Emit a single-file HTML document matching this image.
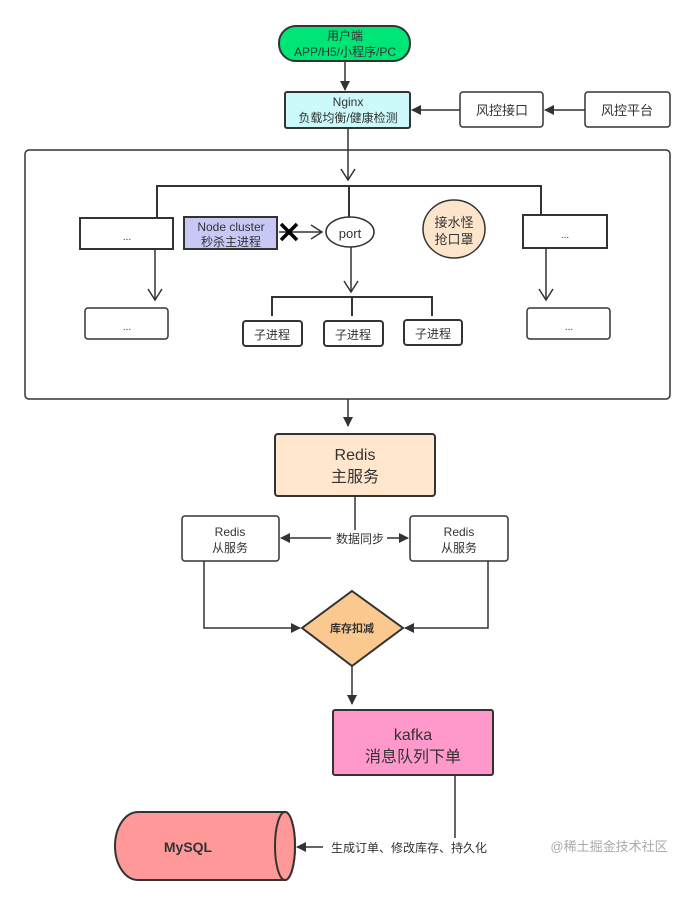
<!DOCTYPE html>
<html><head><meta charset="utf-8"><style>
body{margin:0;background:#fff;}
svg text{font-family:"Liberation Sans","Noto Sans CJK SC",sans-serif;fill:#333;}
</style></head><body>
<svg width="695" height="904" viewBox="0 0 695 904" xmlns="http://www.w3.org/2000/svg">
<defs>
<marker id="a" markerWidth="10" markerHeight="10" refX="9" refY="5" orient="auto" markerUnits="userSpaceOnUse"><path d="M0,0 L10,5 L0,10 z" fill="#333"/></marker>
<marker id="o" markerWidth="14" markerHeight="16" refX="12" refY="8" orient="auto" markerUnits="userSpaceOnUse"><path d="M1,1 L12,8 L1,15" fill="none" stroke="#333" stroke-width="1.5"/></marker>
</defs>
<g stroke="#333" stroke-width="1.5" fill="none">
<!-- top -->
<rect x="279" y="26" width="131" height="35" rx="17" fill="#00e676" stroke-width="2"/>
<line x1="345" y1="61" x2="345" y2="90" marker-end="url(#a)"/>
<rect x="285" y="92" width="125" height="36" rx="2" fill="#ccf9fa" stroke-width="2"/>
<rect x="460" y="92" width="83" height="35" rx="3" fill="#fff"/>
<rect x="585" y="92" width="85" height="35" rx="3" fill="#fff"/>
<line x1="460" y1="110" x2="412" y2="110" marker-end="url(#a)"/>
<line x1="585" y1="110" x2="545" y2="110" marker-end="url(#a)"/>
<!-- container -->
<rect x="25" y="150" width="645" height="249" rx="4"/>
<line x1="348" y1="128" x2="348" y2="180" marker-end="url(#o)"/>
<polyline points="157,217 157,186 541,186 541,215" stroke-width="2"/>
<line x1="349" y1="186" x2="349" y2="217" stroke-width="2"/>
<rect x="80" y="218" width="93" height="31" fill="#fff" stroke-width="2"/>
<rect x="523" y="215" width="84" height="33" fill="#fff" stroke-width="2"/>
<rect x="184" y="217" width="93" height="32" fill="#c8c8f7" stroke-width="2"/>
<line x1="155" y1="249" x2="155" y2="300" marker-end="url(#o)"/>
<line x1="546" y1="248" x2="546" y2="300" marker-end="url(#o)"/>
<rect x="85" y="308" width="83" height="31" rx="3" fill="#fff"/>
<rect x="527" y="308" width="83" height="31" rx="3" fill="#fff"/>
<line x1="279" y1="232" x2="322" y2="232" marker-end="url(#o)"/>
<path d="M281,224 L297,240 M297,224 L281,240" stroke="#000" stroke-width="3.5"/>
<ellipse cx="350" cy="232" rx="24" ry="15" fill="#fff"/>
<ellipse cx="454" cy="229" rx="31" ry="29" fill="#fde5cc"/>
<line x1="351" y1="247" x2="351" y2="292" marker-end="url(#o)"/>
<polyline points="272,316 272,297 432,297 432,316" stroke-width="2"/>
<line x1="352" y1="297" x2="352" y2="316" stroke-width="2"/>
<rect x="243" y="321" width="59" height="25" rx="3" fill="#fff" stroke-width="2"/>
<rect x="324" y="321" width="59" height="25" rx="3" fill="#fff" stroke-width="2"/>
<rect x="404" y="320" width="58" height="25" rx="3" fill="#fff" stroke-width="2"/>
<!-- lower -->
<line x1="348" y1="399" x2="348" y2="426" marker-end="url(#a)"/>
<rect x="275" y="434" width="160" height="62" rx="3" fill="#ffe6cc" stroke-width="2"/>
<line x1="355" y1="496" x2="355" y2="530"/>
<rect x="182" y="516" width="97" height="45" rx="3" fill="#fff"/>
<rect x="410" y="516" width="98" height="45" rx="3" fill="#fff"/>
<line x1="331" y1="538" x2="281" y2="538" marker-end="url(#a)"/>
<line x1="387" y1="538" x2="408" y2="538" marker-end="url(#a)"/>
<polyline points="204,561 204,628 300,628" marker-end="url(#a)"/>
<polyline points="488,561 488,628 405,628" marker-end="url(#a)"/>
<polygon points="352,591 403,628 352,666 302,628" fill="#fbc990" stroke-width="2"/>
<line x1="352" y1="666" x2="352" y2="704" marker-end="url(#a)"/>
<rect x="333" y="710" width="160" height="65" rx="2" fill="#ff99cc" stroke-width="2"/>
<line x1="455" y1="775" x2="455" y2="838"/>
<line x1="323" y1="847" x2="297" y2="847" marker-end="url(#a)"/>
<path d="M138,812 L285,812 A10,34 0 0 1 285,880 L138,880 A23,34 0 0 1 138,812 Z" fill="#ff9999" stroke-width="2"/>
<ellipse cx="285" cy="846" rx="10" ry="34" fill="#ff9999" stroke-width="2"/>
</g>
<g font-size="12" text-anchor="middle">
<text x="345" y="40">用户端</text>
<text x="345" y="56">APP/H5/小程序/PC</text>
<text x="348" y="106">Nginx</text>
<text x="348" y="122">负载均衡/健康检测</text>
<text x="502" y="115" font-size="13">风控接口</text>
<text x="627" y="115" font-size="13">风控平台</text>
<text x="127" y="240" font-size="10">...</text>
<text x="565" y="238" font-size="10">...</text>
<text x="127" y="330" font-size="10">...</text>
<text x="569" y="330" font-size="10">...</text>
<text x="231" y="231" fill="#222">Node cluster</text>
<text x="231" y="246" fill="#222">秒杀主进程</text>
<text x="350" y="238" font-size="13">port</text>
<text x="454" y="227" font-size="13">接水怪</text>
<text x="454" y="244" font-size="13">抢口罩</text>
<text x="272" y="339">子进程</text>
<text x="353" y="339">子进程</text>
<text x="433" y="338">子进程</text>
<text x="355" y="460" font-size="16">Redis</text>
<text x="355" y="482" font-size="16">主服务</text>
<text x="230" y="536">Redis</text>
<text x="230" y="552">从服务</text>
<text x="459" y="536">Redis</text>
<text x="459" y="552">从服务</text>
<text x="360" y="543">数据同步</text>
<text x="352" y="632" font-size="11" font-weight="bold">库存扣减</text>
<text x="413" y="740" font-size="16">kafka</text>
<text x="413" y="762" font-size="16">消息队列下单</text>
<text x="188" y="852" font-size="14" font-weight="bold">MySQL</text>
<text x="409" y="852">生成订单、修改库存、持久化</text>
<text x="609" y="851" font-size="13" fill="#999" style="fill:#aaa">@稀土掘金技术社区</text>
</g>
</svg>
</body></html>
